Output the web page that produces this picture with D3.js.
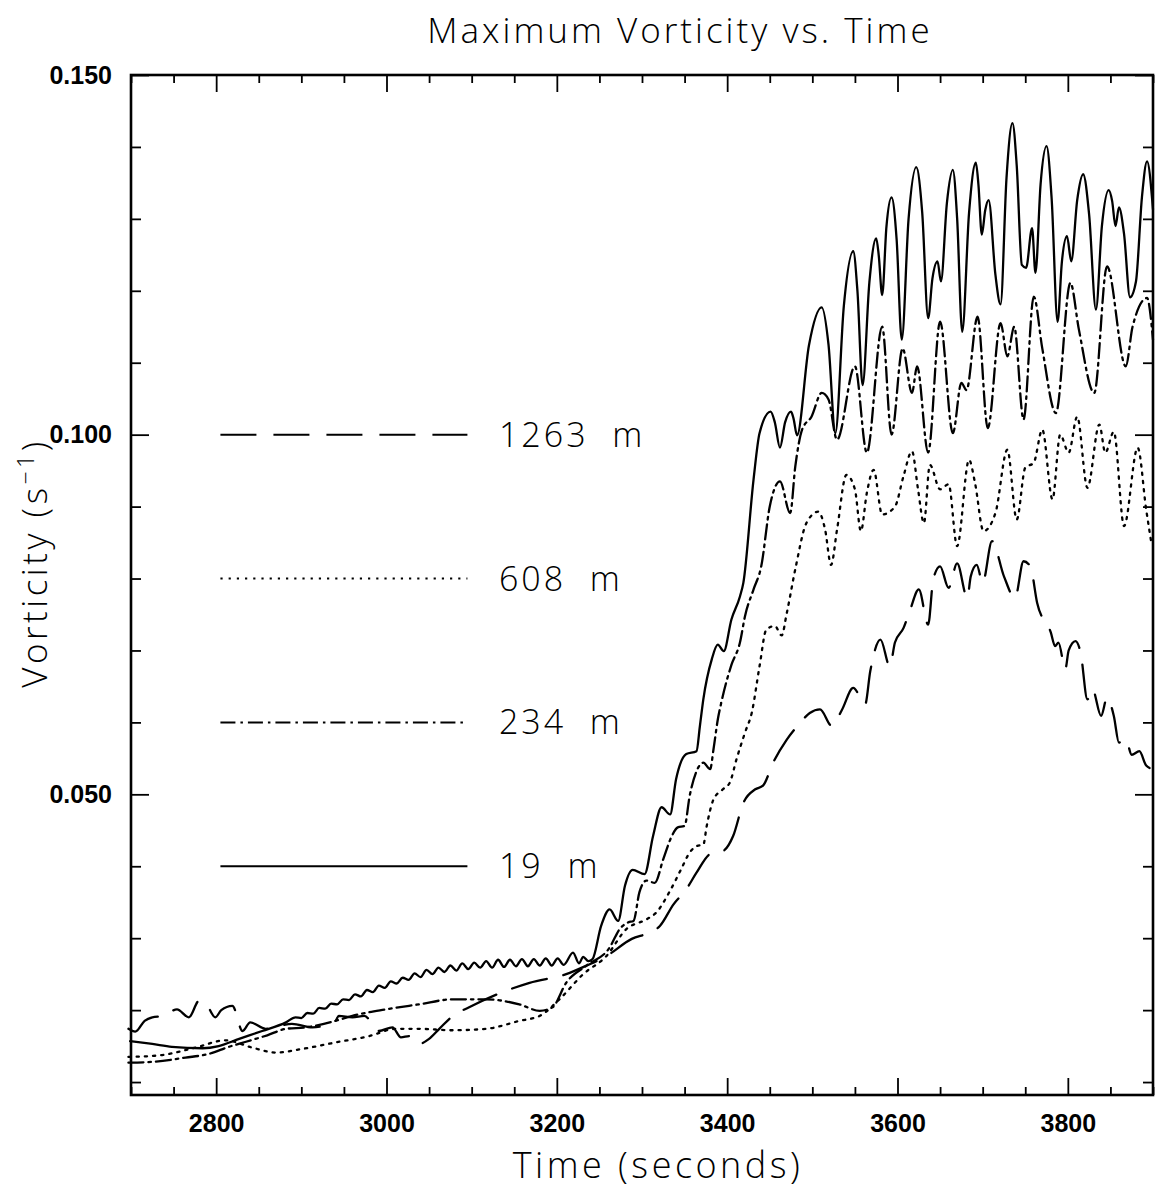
<!DOCTYPE html>
<html>
<head>
<meta charset="utf-8">
<script src="https://cdn.jsdelivr.net/npm/d3@7"></script>
<style>
  body { margin: 0; background: #fff; }
  text { fill: #000; }
  .lbl { font-family: "Open Sans", "DejaVu Sans", sans-serif; font-weight: 300; white-space: pre; letter-spacing: 3px; }
  .tick text { font-family: "Liberation Sans", Arial, sans-serif; font-weight: bold; font-size: 25px; }
</style>
</head>
<body>
<div id="chart"></div>
<script>
// ---- tick labels ----
const xMajorTicks = [2800, 3000, 3200, 3400, 3600, 3800];
const yMajorTicks = [0.05, 0.10, 0.15];
const yTickLabels = ["0.050", "0.100", "0.150"];

// ---- legend ----
const seriesNames = ["1263 m", "608 m", "234 m", "19 m"];
const legendLevels = [0.100, 0.080, 0.060, 0.040];

// ---- series [time (s), max vorticity (1/s)] ----
const s19 = [
  [2699,0.0157],[2725,0.0153],[2748,0.0149],[2784,0.0147],[2803,0.0150],[2827,0.0160],[2854,0.0171],[2882,0.0183],
  [2893,0.0190],[2900,0.0189],[2907,0.0196],[2914,0.0195],[2921,0.0203],[2928,0.0202],[2935,0.0209],[2942,0.0208],
  [2949,0.0215],[2956,0.0214],[2963,0.0222],[2970,0.0219],[2977,0.0228],[2984,0.0225],[2991,0.0234],[2998,0.0231],
  [3005,0.0240],[3012,0.0237],[3019,0.0245],[3026,0.0242],[3033,0.0251],[3040,0.0246],[3047,0.0256],[3054,0.0250],
  [3061,0.0259],[3068,0.0253],[3075,0.0262],[3082,0.0255],[3089,0.0265],[3096,0.0257],[3103,0.0266],[3110,0.0259],
  [3117,0.0268],[3124,0.0259],[3131,0.0270],[3138,0.0260],[3145,0.0270],[3152,0.0261],[3159,0.0271],[3166,0.0261],
  [3173,0.0271],[3180,0.0262],[3187,0.0272],[3194,0.0262],[3201,0.0272],[3208,0.0263],[3219,0.0280],[3226,0.0265],
  [3231,0.0274],[3237,0.0268],[3242,0.0271],[3252,0.0317],[3262,0.0340],[3272,0.0324],[3280,0.0373],[3289,0.0395],
  [3303,0.0389],[3313,0.0442],[3323,0.0482],[3333,0.0472],[3340,0.0521],[3352,0.0556],[3364,0.0560],[3368,0.0595],
  [3372,0.0632],[3382,0.0688],[3389,0.0708],[3396,0.0699],[3405,0.0743],[3415,0.0775],[3419,0.0794],[3431,0.0938],
  [3438,0.1002],[3451,0.1032],[3456,0.1017],[3462,0.0982],[3468,0.1017],[3475,0.1032],[3478,0.1022],[3482,0.0999],
  [3496,0.1124],[3511,0.1177],[3519,0.1125],[3527,0.1002],[3537,0.1179],[3548,0.1255],[3553,0.1199],[3559,0.1069],
  [3567,0.1212],[3575,0.1273],[3578,0.1249],[3582,0.1194],[3587,0.1289],[3593,0.1330],[3599,0.1271],[3605,0.1132],
  [3613,0.1300],[3622,0.1372],[3629,0.1309],[3636,0.1162],[3641,0.1217],[3647,0.1241],[3651,0.1213],[3658,0.1322],
  [3665,0.1368],[3670,0.1301],[3676,0.1143],[3684,0.1308],[3692,0.1378],[3695,0.1348],[3699,0.1278],[3703,0.1312],
  [3707,0.1326],[3715,0.1222],[3721,0.1181],[3728,0.1357],[3735,0.1433],[3740,0.1374],[3746,0.1236],[3751,0.1232],
  [3758,0.1287],[3762,0.1225],[3768,0.1348],[3775,0.1401],[3781,0.1328],[3788,0.1157],[3793,0.1240],[3799,0.1276],
  [3804,0.1241],[3811,0.1326],[3818,0.1362],[3825,0.1306],[3833,0.1174],[3840,0.1290],[3848,0.1340],[3852,0.1325],
  [3856,0.1290],[3860,0.1316],[3866,0.1279],[3873,0.1191],[3880,0.1213],[3887,0.1330],[3893,0.1380],[3900,0.1313]
];

const s234 = [
  [2697,0.0127],[2724,0.0128],[2764,0.0134],[2791,0.0139],[2815,0.0149],[2835,0.0156],[2860,0.0165],[2882,0.0174],
  [2905,0.0176],[2940,0.0185],[2960,0.0192],[2999,0.0201],[3038,0.0208],[3078,0.0215],[3117,0.0215],[3156,0.0208],
  [3180,0.0199],[3195,0.0204],[3211,0.0238],[3235,0.0262],[3262,0.0287],[3274,0.0313],[3284,0.0322],[3290,0.0324],
  [3297,0.0364],[3305,0.0380],[3315,0.0377],[3325,0.0410],[3335,0.0442],[3342,0.0454],[3350,0.0456],[3356,0.0498],
  [3364,0.0532],[3372,0.0544],[3380,0.0535],[3384,0.0563],[3389,0.0604],[3393,0.0627],[3405,0.0680],[3415,0.0711],
  [3421,0.0748],[3431,0.0785],[3440,0.0817],[3450,0.0900],[3462,0.0935],[3474,0.0891],[3480,0.0956],[3488,0.1007],
  [3499,0.1025],[3511,0.1058],[3519,0.1049],[3529,0.0993],[3550,0.1095],[3564,0.0975],[3582,0.1150],[3593,0.1000],
  [3606,0.1120],[3617,0.1058],[3623,0.1095],[3636,0.0975],[3650,0.1157],[3665,0.1002],[3675,0.1072],[3681,0.1062],
  [3694,0.1164],[3706,0.1009],[3721,0.1155],[3729,0.1109],[3737,0.1150],[3748,0.1021],[3760,0.1192],[3770,0.1120],
  [3786,0.1030],[3803,0.1211],[3813,0.1146],[3831,0.1058],[3846,0.1234],[3868,0.1095],[3876,0.1150],[3893,0.1190],
  [3900,0.1132]
];

const s608 = [
  [2697,0.0135],[2733,0.0137],[2776,0.0148],[2811,0.0158],[2842,0.0148],[2870,0.0141],[2901,0.0146],[2940,0.0155],
  [2980,0.0164],[3011,0.0174],[3038,0.0174],[3078,0.0172],[3117,0.0174],[3156,0.0185],[3180,0.0192],[3203,0.0215],
  [3231,0.0250],[3258,0.0275],[3282,0.0313],[3305,0.0326],[3317,0.0336],[3333,0.0366],[3346,0.0396],[3356,0.0419],
  [3364,0.0428],[3372,0.0430],[3376,0.0456],[3384,0.0493],[3395,0.0507],[3403,0.0516],[3411,0.0549],[3421,0.0586],
  [3429,0.0614],[3438,0.0678],[3446,0.0729],[3456,0.0734],[3464,0.0721],[3470,0.0752],[3480,0.0813],[3493,0.0877],
  [3507,0.0893],[3515,0.0868],[3522,0.0819],[3529,0.0868],[3540,0.0944],[3550,0.0924],[3557,0.0866],[3564,0.0919],
  [3572,0.0951],[3582,0.0889],[3597,0.0900],[3607,0.0942],[3617,0.0977],[3624,0.0925],[3631,0.0877],[3638,0.0958],
  [3650,0.0924],[3660,0.0931],[3670,0.0845],[3684,0.0965],[3691,0.0933],[3701,0.0866],[3715,0.0891],[3729,0.0979],
  [3740,0.0882],[3750,0.0954],[3760,0.0961],[3770,0.1007],[3782,0.0910],[3791,0.1000],[3801,0.0975],[3811,0.1025],
  [3823,0.0926],[3837,0.1014],[3844,0.0975],[3854,0.1004],[3866,0.0873],[3882,0.0982],[3892,0.0896],[3898,0.0850]
];

const s1263 = [
  [2697,0.0174],[2705,0.0170],[2716,0.0185],[2725,0.0190],[2738,0.0192],[2754,0.0201],[2768,0.0190],[2780,0.0213],
  [2790,0.0205],[2799,0.0190],[2806,0.0200],[2819,0.0206],[2831,0.0171],[2840,0.0183],[2858,0.0174],[2889,0.0181],
  [2913,0.0176],[2940,0.0185],[2944,0.0192],[2960,0.0190],[2974,0.0192],[2991,0.0171],[3007,0.0176],[3017,0.0162],
  [3027,0.0164],[3038,0.0153],[3050,0.0160],[3062,0.0174],[3078,0.0192],[3097,0.0204],[3130,0.0222],[3168,0.0238],
  [3211,0.0250],[3235,0.0262],[3258,0.0275],[3288,0.0299],[3309,0.0308],[3321,0.0317],[3337,0.0347],[3352,0.0368],
  [3364,0.0391],[3380,0.0417],[3395,0.0421],[3407,0.0442],[3419,0.0488],[3433,0.0507],[3442,0.0512],[3454,0.0544],
  [3470,0.0576],[3484,0.0597],[3497,0.0613],[3509,0.0618],[3523,0.0595],[3535,0.0618],[3548,0.0648],[3562,0.0625],
  [3568,0.0671],[3580,0.0715],[3591,0.0678],[3597,0.0711],[3607,0.0731],[3615,0.0757],[3625,0.0785],[3636,0.0736],
  [3642,0.0799],[3650,0.0817],[3660,0.0787],[3670,0.0821],[3682,0.0773],[3686,0.0803],[3693,0.0819],[3700,0.0794],
  [3711,0.0852],[3725,0.0803],[3738,0.0773],[3748,0.0824],[3756,0.0817],[3764,0.0766],[3780,0.0725],[3785,0.0706],
  [3789,0.0711],[3797,0.0674],[3801,0.0700],[3809,0.0713],[3815,0.0697],[3823,0.0632],[3829,0.0646],[3839,0.0609],
  [3846,0.0634],[3854,0.0609],[3860,0.0572],[3868,0.0577],[3875,0.0555],[3884,0.0560],[3892,0.0540],[3900,0.0535]
];

function draw() {
	const W = 1163, H = 1188;
	const svg = d3.select("#chart").append("svg")
		.attr("width", W).attr("height", H);

	const x = d3.scaleLinear().domain([2700, 3900]).range([131, 1153]);
	const y = d3.scaleLinear().domain([0.0082, 0.150]).range([1095, 75]);

	const xMinor = d3.range(2700, 3901, 50).filter(t => !xMajorTicks.includes(t));
	const yMinor = d3.range(1, 15).map(i => i / 100).filter(v => !yMajorTicks.some(m => Math.abs(m - v) < 1e-9));

	// frame
	svg.append("rect")
		.attr("x", x(2700)).attr("y", y(0.150))
		.attr("width", x(3900) - x(2700)).attr("height", y(0.0082) - y(0.150))
		.attr("fill", "none").attr("stroke", "#000").attr("stroke-width", 2.6);

	const styleAxis = g => {
		g.select(".domain").remove();
		g.selectAll(".tick line").attr("stroke", "#000").attr("stroke-width", 1.8);
	};

	// bottom axis (labelled) and minor ticks
	svg.append("g").attr("transform", `translate(0,${y(0.0082)})`)
		.call(d3.axisBottom(x).tickValues(xMajorTicks).tickSizeInner(-17).tickSizeOuter(0)
			.tickPadding(19).tickFormat(d3.format("d")))
		.call(styleAxis);
	svg.append("g").attr("transform", `translate(0,${y(0.0082)})`)
		.call(d3.axisBottom(x).tickValues(xMinor).tickSize(-8).tickFormat(""))
		.call(styleAxis);
	// top axis ticks
	svg.append("g").attr("transform", `translate(0,${y(0.150)})`)
		.call(d3.axisTop(x).tickValues(xMajorTicks).tickSize(-17).tickFormat(""))
		.call(styleAxis);
	svg.append("g").attr("transform", `translate(0,${y(0.150)})`)
		.call(d3.axisTop(x).tickValues(xMinor).tickSize(-8).tickFormat(""))
		.call(styleAxis);

	// left axis (labelled) and minor ticks
	svg.append("g").attr("transform", `translate(${x(2700)},0)`)
		.call(d3.axisLeft(y).tickValues(yMajorTicks).tickSizeInner(-18).tickSizeOuter(0)
			.tickPadding(19).tickFormat((d, i) => yTickLabels[i]))
		.call(styleAxis);
	svg.append("g").attr("transform", `translate(${x(2700)},0)`)
		.call(d3.axisLeft(y).tickValues(yMinor).tickSize(-10).tickFormat(""))
		.call(styleAxis);
	// right axis ticks
	svg.append("g").attr("transform", `translate(${x(3900)},0)`)
		.call(d3.axisRight(y).tickValues(yMajorTicks).tickSize(-18).tickFormat(""))
		.call(styleAxis);
	svg.append("g").attr("transform", `translate(${x(3900)},0)`)
		.call(d3.axisRight(y).tickValues(yMinor).tickSize(-10).tickFormat(""))
		.call(styleAxis);

	// titles
	svg.append("text").attr("class", "lbl")
		.attr("x", 680).attr("y", 43).attr("text-anchor", "middle")
		.attr("font-size", 35).text("Maximum Vorticity vs. Time");
	svg.append("text").attr("class", "lbl")
		.attr("x", 658).attr("y", 1178).attr("text-anchor", "middle")
		.attr("font-size", 36).style("letter-spacing", "3.5px").text("Time (seconds)");
	const yt = svg.append("text").attr("class", "lbl")
		.attr("transform", "translate(47,563) rotate(-90)")
		.attr("text-anchor", "middle").attr("font-size", 35).style("letter-spacing", "3.5px");
	yt.append("tspan").text("Vorticity (s");
	yt.append("tspan").attr("dy", -13).attr("font-size", 23).text("\u22121");
	yt.append("tspan").attr("dy", 13).text(")");

	// series
	const series = [
		{name: seriesNames[0], data: s1263, dash: "36,17"},
		{name: seriesNames[1], data: s608, dash: "2.2,6"},
		{name: seriesNames[2], data: s234, dash: "15,5,2.5,5"},
		{name: seriesNames[3], data: s19, dash: null}
	];

	const line = d3.line()
		.x(d => x(d[0]))
		.y(d => y(d[1]))
		.curve(d3.curveMonotoneX);

	const plot = svg.append("g");
	series.forEach(s => {
		plot.append("path")
			.datum(s.data)
			.attr("fill", "none")
			.attr("stroke", "#000")
			.attr("stroke-width", 2.3)
			.attr("stroke-linecap", "round")
			.attr("stroke-dasharray", s.dash)
			.attr("d", line);
	});

	// legend drawn inside the plot at fixed vorticity levels
	series.forEach((s, i) => {
		const ly = y(legendLevels[i]);
		svg.append("line")
			.attr("x1", x(2805)).attr("x2", x(3095))
			.attr("y1", ly).attr("y2", ly)
			.attr("stroke", "#000").attr("stroke-width", 2)
			.attr("stroke-dasharray", s.dash);
		svg.append("text").attr("class", "lbl")
			.attr("x", x(3132)).attr("y", ly + 12)
			.attr("font-size", 34)
			.text(s.name.replace(" ", "  "));
	});
}

function whenDocumentLoaded(action) {
	if (document.readyState === "loading") {
		document.addEventListener("DOMContentLoaded", action);
	} else {
		action();
	}
}

whenDocumentLoaded(draw);
</script>
</body>
</html>
